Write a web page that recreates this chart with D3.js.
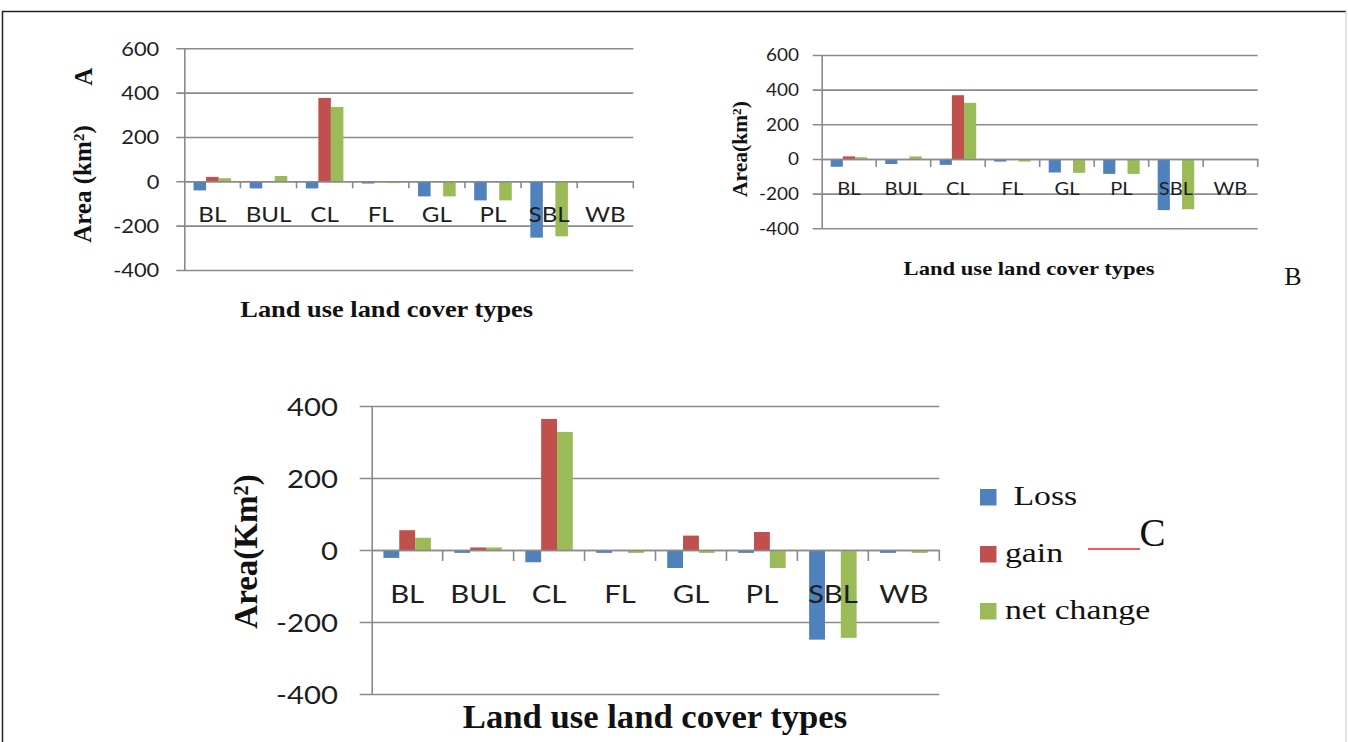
<!DOCTYPE html>
<html lang="en">
<head>
<meta charset="UTF-8">
<title>Land use land cover change</title>
<style>
  body { margin: 0; background: #fff; }
  svg { display: block; }
</style>
</head>
<body>
<div class="canvas"></div>
<script src="https://cdnjs.cloudflare.com/ajax/libs/d3/7.8.5/d3.min.js"></script>
<script>
// categories and series
const categories = ['BL', 'BUL', 'CL', 'FL', 'GL', 'PL', 'SBL', 'WB'];
const seriesNames = ['Loss', 'gain', 'net change'];
const legendLabels = [' Loss', 'gain', 'net change'];

// panel A values (km2)
const lossA = [-41, -32, -32, -10, -68, -86, -254, 0];
const gainA = [20, 0, 376, 0, 0, 0, 0, 0];
const netA  = [14, 24, 335, -8, -68, -86, -248, 0];

// panel B values
const lossB = [-45, -29, -34, -15, -78, -86, -295, 0];
const gainB = [15, 0, 368, 0, 0, 0, 0, 0];
const netB  = [10, 15, 324, -15, -80, -86, -290, 0];

// panel C values
const lossC = [-22, -8, -34, -8, -50, -8, -249, -8];
const gainC = [55, 7, 364, 0, 40, 50, 0, 0];
const netC  = [34, 7, 328, -8, -8, -50, -244, -8];

// tick labels
const ticksAB = [-400, -200, 0, 200, 400, 600];
const ticksC  = [-400, -200, 0, 200, 400];

const colors = d3.scaleOrdinal().domain(seriesNames).range(['#4f81bd', '#c0504d', '#9bbb59']);

const sans = 'Lato, "Open Sans", sans-serif';
const serif = '"Liberation Serif", "Times New Roman", serif';
const gridColor = '#8a8a8a';
const textColor = '#1e1e1e';

const svg = d3.select('.canvas')
  .append('svg')
    .attr('width', 1348)
    .attr('height', 742);

// figure frame
svg.append('line').attr('x1', 2).attr('x2', 1346).attr('y1', 11.5).attr('y2', 11.5)
  .attr('stroke', '#222').attr('stroke-width', 1.5);
svg.append('line').attr('x1', 2.5).attr('x2', 2.5).attr('y1', 11).attr('y2', 742)
  .attr('stroke', '#222').attr('stroke-width', 1.5);
svg.append('line').attr('x1', 1346).attr('x2', 1346).attr('y1', 11).attr('y2', 742)
  .attr('stroke', '#c8c8c8').attr('stroke-width', 1);

const panels = [
  { loss: lossA, gain: gainA, net: netA, ticks: ticksAB,
    x0: 184.3, x1: 633.3, yTop: 48.3, yBot: 270,
    tickLen: 8, pad: 17, tickFs: 19, catFs: 21, catOff: 40.7, catTick: 7, sx: 1.15,
    xTitle: {x: 386.7, y: 316.7, fs: 24, sx: 1.1},
    yTitle: {x: 91, y: 184, fs: 25, pre: 'Area (km', post: ')'} },
  { loss: lossB, gain: gainB, net: netB, ticks: ticksAB,
    x0: 821.7, x1: 1257.7, yTop: 55, yBot: 228.3,
    tickLen: 9, pad: 13.7, tickFs: 16.5, catFs: 17.5, catOff: 36, catTick: 8, sx: 1.15,
    xTitle: {x: 1029, y: 275, fs: 19.5, sx: 1.16},
    yTitle: {x: 747, y: 149, fs: 21.5, pre: 'Area(km', post: ')'} },
  { loss: lossC, gain: gainC, net: netC, ticks: ticksC,
    x0: 371.7, x1: 939.3, yTop: 406, yBot: 694,
    tickLen: 12, pad: 21.7, tickFs: 25.5, catFs: 25.5, catOff: 53, catTick: 11, sx: 1.15,
    xTitle: {x: 655, y: 728, fs: 33, sx: 1.05},
    yTitle: {x: 257, y: 551.5, fs: 33, pre: 'Area(Km', post: ')'} }
];

panels.forEach(p => {
  const g = svg.append('g');
  const width = p.x1 - p.x0;

  const y = d3.scaleLinear()
    .domain(d3.extent(p.ticks))
    .range([p.yBot, p.yTop]);

  const x = d3.scaleBand()
    .domain(categories)
    .range([p.x0, p.x1]);

  const xs = d3.scaleBand()
    .domain(seriesNames)
    .range([0, x.bandwidth()])
    .paddingOuter(0.74);

  // value axis: gridlines + outward ticks + labels (plain hyphen minus)
  const yAxisGroup = g.append('g')
    .attr('transform', `translate(${p.x0}, 0)`)
    .call(d3.axisLeft(y)
      .tickValues(p.ticks)
      .tickFormat(d => String(d))
      .tickSizeInner(p.tickLen)
      .tickSizeOuter(0));

  yAxisGroup.selectAll('.tick line')
    .attr('x1', width)
    .attr('stroke', gridColor)
    .attr('stroke-width', 1.6);
  yAxisGroup.select('.domain')
    .attr('stroke', gridColor)
    .attr('stroke-width', 1.6);
  yAxisGroup.selectAll('.tick text')
    .attr('x', null).attr('dy', null)
    .attr('transform', `translate(${-(p.tickLen + p.pad)}, ${0.36 * p.tickFs}) scale(${p.sx}, 1)`)
    .attr('fill', textColor)
    .style('font-family', sans)
    .style('font-size', p.tickFs + 'px');

  // bars
  const rows = categories.map((c, i) => ({cat: c, vals: [p.loss[i], p.gain[i], p.net[i]]}));
  const groups = g.selectAll('g.cat')
    .data(rows)
    .enter()
    .append('g')
      .attr('class', 'cat')
      .attr('transform', d => `translate(${x(d.cat)}, 0)`);

  groups.selectAll('rect')
    .data(d => d.vals.map((v, j) => ({name: seriesNames[j], value: v})))
    .enter()
    .append('rect')
      .attr('x', d => xs(d.name))
      .attr('width', xs.bandwidth())
      .attr('y', d => y(Math.max(0, d.value)))
      .attr('height', d => Math.abs(y(d.value) - y(0)))
      .attr('fill', d => colors(d.name));

  // category axis along zero
  const xAxisGroup = g.append('g')
    .attr('transform', `translate(0, ${y(0)})`)
    .call(d3.axisBottom(x).tickSize(0).tickSizeOuter(0));

  xAxisGroup.select('.domain')
    .attr('stroke', gridColor)
    .attr('stroke-width', 1.6);
  xAxisGroup.selectAll('.tick text')
    .attr('y', null).attr('dy', null)
    .attr('transform', `translate(0, ${p.catOff}) scale(${p.sx}, 1)`)
    .attr('fill', textColor)
    .style('font-family', sans)
    .style('font-size', p.catFs + 'px');

  // tick marks between categories
  xAxisGroup.selectAll('line.sep')
    .data(categories)
    .enter()
    .append('line')
      .attr('class', 'sep')
      .attr('x1', d => x(d) + x.bandwidth())
      .attr('x2', d => x(d) + x.bandwidth())
      .attr('y1', 0)
      .attr('y2', p.catTick)
      .attr('stroke', gridColor)
      .attr('stroke-width', 1.6);

  // axis titles
  g.append('text')
    .attr('transform', `translate(${p.xTitle.x}, ${p.xTitle.y}) scale(${p.xTitle.sx}, 1)`)
    .attr('text-anchor', 'middle')
    .attr('fill', '#111')
    .style('font-family', serif)
    .style('font-weight', 'bold')
    .style('font-size', p.xTitle.fs + 'px')
    .text('Land use land cover types');

  const yt = g.append('text')
    .attr('transform', `translate(${p.yTitle.x}, ${p.yTitle.y}) rotate(-90)`)
    .attr('text-anchor', 'middle')
    .attr('fill', '#111')
    .style('font-family', serif)
    .style('font-weight', 'bold')
    .style('font-size', p.yTitle.fs + 'px');
  yt.append('tspan').text(p.yTitle.pre);
  yt.append('tspan').attr('dy', '-0.45em').style('font-size', '0.62em').text('2');
  yt.append('tspan').attr('dy', '0.28em').text(p.yTitle.post);
});

// panel letters
svg.append('text')
  .attr('transform', 'translate(91.5, 76.7) rotate(-90)')
  .attr('text-anchor', 'middle')
  .attr('fill', '#111')
  .style('font-family', serif)
  .style('font-weight', 'bold')
  .style('font-size', '25px')
  .text('A');

svg.append('text')
  .attr('x', 1293).attr('y', 285)
  .attr('text-anchor', 'middle')
  .attr('fill', '#111')
  .style('font-family', serif)
  .style('font-size', '26px')
  .text('B');

svg.append('text')
  .attr('x', 1152.5).attr('y', 546)
  .attr('text-anchor', 'middle')
  .attr('fill', '#111')
  .style('font-family', serif)
  .style('font-size', '39px')
  .text('C');

svg.append('line')
  .attr('x1', 1088).attr('x2', 1140).attr('y1', 549).attr('y2', 549)
  .attr('stroke', '#e3262a').attr('stroke-width', 1.5);

// legend for panel C
const legend = svg.append('g').attr('transform', 'translate(980, 489)');
const items = legend.selectAll('g')
  .data(seriesNames)
  .enter()
  .append('g')
    .attr('transform', (d, i) => `translate(0, ${i * 57})`);

items.append('rect')
  .attr('width', 16.5)
  .attr('height', 16.5)
  .attr('fill', d => colors(d));

items.append('text')
  .attr('transform', 'translate(25, 16) scale(1.25, 1)')
  .attr('fill', '#111')
  .style('font-family', serif)
  .style('font-size', '27px')
  .style('white-space', 'pre')
  .text((d, i) => legendLabels[i]);
</script>
</body>
</html>
